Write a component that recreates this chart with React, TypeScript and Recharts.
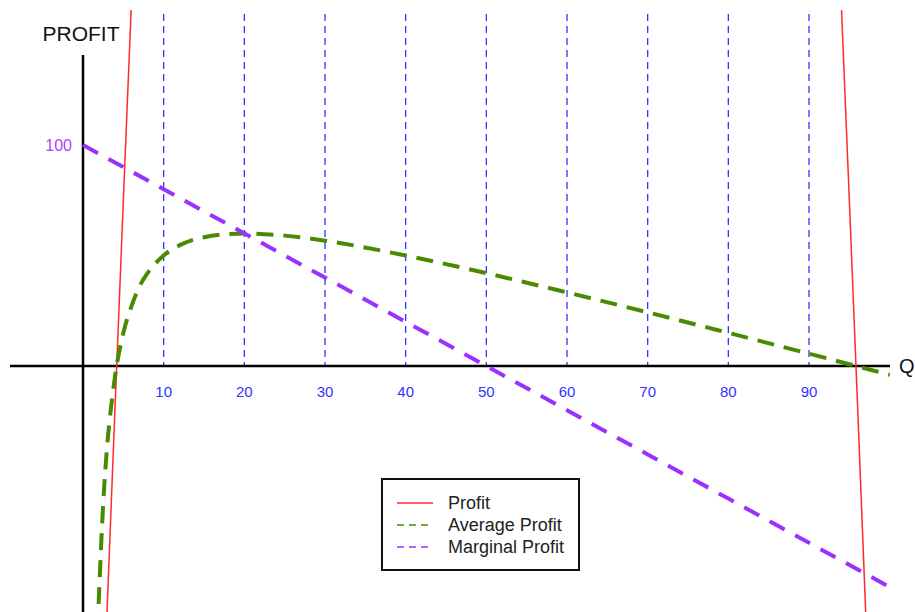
import React from 'react';
import {
  LineChart,
  Line,
  XAxis,
  YAxis,
  ReferenceLine,
  ReferenceDot,
  Legend,
} from 'recharts';

// values
const profitQ = [2.5, 3, 4, 5, 6, 7, 20, 50, 80, 93, 94, 95, 96, 97, 97.5];
const profitV = [-156, -109, -16, 75, 164, 251, 1200, 2100, 1200, 251, 164, 75, -16, -109, -156];

const avgQ = [1.8, 2, 2.5, 3, 3.5, 4, 5, 6, 7, 8, 10, 12, 15, 20, 25, 30, 40, 50, 60, 70, 80, 90, 95, 100];
const avgV = [-120, -102, -62.5, -36, -18, -4, 15, 27, 36, 42, 50, 54.7, 58.3, 60, 59, 56.7, 50, 42, 33.3, 24.3, 15, 5.6, 0.8, -4];

const margQ = [0, 10, 20, 30, 40, 50, 60, 70, 80, 90, 100.5];
const margV = [100, 80, 60, 40, 20, 0, -20, -40, -60, -80, -101];

const qTicks = [10, 20, 30, 40, 50, 60, 70, 80, 90];

const profitData = profitQ.map((q, i) => ({ q, v: profitV[i] }));
const avgData = avgQ.map((q, i) => ({ q, v: avgV[i] }));
const margData = margQ.map((q, i) => ({ q, v: margV[i] }));

const FONT = '"Liberation Sans", Arial, sans-serif';
const RED = '#ff2a2a';
const GREEN = '#4a8a00';
const PURPLE = '#9b30ff';
const BLUE = '#3333ff';

const series = [
  { name: 'Profit', color: RED, dash: undefined as string | undefined },
  { name: 'Average Profit', color: GREEN, dash: '7 5' },
  { name: 'Marginal Profit', color: PURPLE, dash: '7 5' },
];

const LegendBox = () => (
  <div
    style={{
      width: 195,
      height: 87,
      border: '2px solid #111',
      background: '#fff',
      boxSizing: 'content-box',
      paddingTop: 2,
      fontFamily: FONT,
      fontSize: 18,
      color: '#222',
    }}
  >
    <div style={{ height: 10 }} />
    {series.map((s) => (
      <div key={s.name} style={{ display: 'flex', alignItems: 'center', height: 22 }}>
        <svg width={36} height={4} style={{ marginLeft: 14, marginRight: 15 }}>
          <line x1={0} y1={2} x2={36} y2={2} stroke={s.color} strokeWidth={1.5} strokeDasharray={s.dash} />
        </svg>
        <span style={{ lineHeight: '22px' }}>{s.name}</span>
      </div>
    ))}
  </div>
);

export default function App() {
  return (
    <div style={{ position: 'absolute', left: 0, top: 0, background: '#fff' }}>
      <LineChart width={915} height={612} margin={{ top: 10, right: 0, bottom: 0, left: 0 }}>
        <XAxis type="number" dataKey="q" domain={[-10.29, 103.14]} allowDataOverflow hide />
        <YAxis type="number" dataKey="v" domain={[-111.31, 161.09]} allowDataOverflow hide />
        {qTicks.map((t) => (
          <ReferenceLine
            key={'g' + t}
            segment={[{ x: t, y: 159.3 }, { x: t, y: 0 }]}
            stroke={BLUE}
            strokeWidth={1.3}
            strokeDasharray="7 5"
          />
        ))}
        <ReferenceLine segment={[{ x: -9.05, y: 0 }, { x: 100.04, y: 0 }]} stroke="#000" strokeWidth={2.5} />
        <ReferenceLine segment={[{ x: 0, y: -111.31 }, { x: 0, y: 140.7 }]} stroke="#000" strokeWidth={2.5} />
        {qTicks.map((t) => (
          <ReferenceDot
            key={'t' + t}
            x={t}
            y={0}
            r={0}
            fill="none"
            stroke="none"
            label={{ value: String(t), position: 'bottom', offset: 20, fill: BLUE, fontSize: 15, fontFamily: FONT }}
          />
        ))}
        <ReferenceDot
          x={0}
          y={100}
          r={0}
          fill="none"
          stroke="none"
          label={{ value: '100', position: 'left', offset: 11, fill: '#b040ff', fontSize: 16, fontFamily: FONT }}
        />
        <ReferenceDot
          x={-0.25}
          y={140.7}
          r={0}
          fill="none"
          stroke="none"
          label={{ value: 'PROFIT', position: 'top', offset: 14, fill: '#111', fontSize: 21, fontFamily: FONT }}
        />
        <ReferenceDot
          x={100.04}
          y={0}
          r={0}
          fill="none"
          stroke="none"
          label={{ value: 'Q', position: 'right', offset: 9, fill: '#111', fontSize: 20, fontFamily: FONT }}
        />
        <Line
          data={profitData}
          dataKey="v"
          name="Profit"
          type="linear"
          stroke={RED}
          strokeWidth={1.5}
          dot={false}
          activeDot={false}
          isAnimationActive={false}
        />
        <Line
          data={avgData}
          dataKey="v"
          name="Average Profit"
          type="monotone"
          stroke={GREEN}
          strokeWidth={4}
          strokeDasharray="17 10"
          dot={false}
          activeDot={false}
          isAnimationActive={false}
        />
        <Line
          data={margData}
          dataKey="v"
          name="Marginal Profit"
          type="linear"
          stroke={PURPLE}
          strokeWidth={4}
          strokeDasharray="17 12"
          dot={false}
          activeDot={false}
          isAnimationActive={false}
        />
        <Legend
          layout="vertical"
          align="center"
          verticalAlign="middle"
          wrapperStyle={{ left: 381, top: 478, width: 199, height: 91 }}
          content={() => <LegendBox />}
        />
      </LineChart>
    </div>
  );
}
